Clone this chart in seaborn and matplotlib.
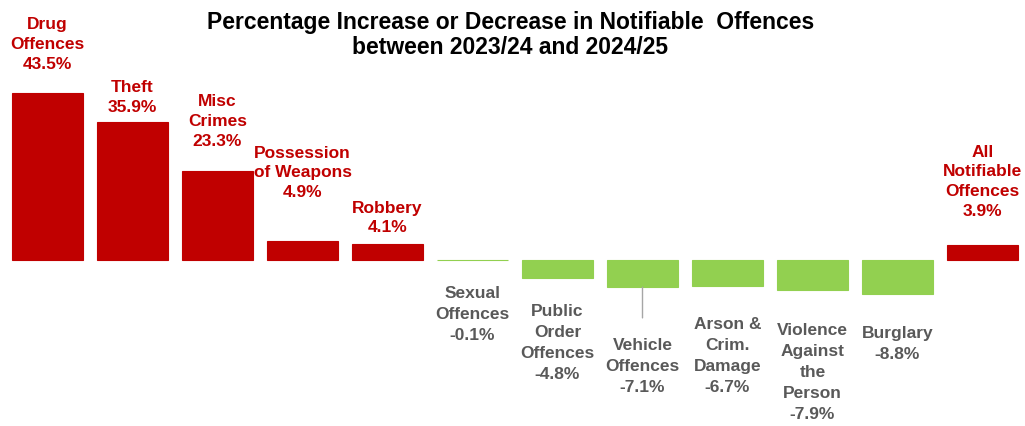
import pandas as pd
import numpy as np
import matplotlib.pyplot as plt
import seaborn as sns

# data
offences = ['Drug\nOffences', 'Theft', 'Misc\nCrimes', 'Possession\nof Weapons', 'Robbery',
            'Sexual\nOffences', 'Public\nOrder\nOffences', 'Vehicle\nOffences', 'Arson &\nCrim.\nDamage',
            'Violence\nAgainst\nthe\nPerson', 'Burglary', 'All\nNotifiable\nOffences']
pct_change = [43.5, 35.9, 23.3, 4.9, 4.1, -0.1, -4.8, -7.1, -6.7, -7.9, -8.8, 3.9]

# label gap from bar end, in pixels (hand placed in the original)
label_gap = [21, 7, 22, 41, 9, 26, 26, 51, 31, 33, 32, 26]

RED = '#C00000'
GREEN = '#92D050'
GREY = '#595959'

sns.set_theme(style='white')
plt.rcParams['font.family'] = ['Liberation Sans', 'DejaVu Sans']

df = pd.DataFrame({'offence': offences, 'pct': pct_change})
bar_colours = [RED if v > 0 else GREEN for v in df['pct']]

fig = plt.figure(figsize=(10.25, 4.26), dpi=100)
ax1 = fig.add_axes([5 / 1025, 0, 1020 / 1025, 1])
sns.barplot(data=df, x='offence', y='pct', hue='offence', palette=bar_colours,
            width=0.83, legend=False, ax=ax1, saturation=1, linewidth=0.8)
for bar, c in zip(ax1.patches, bar_colours):
    bar.set_edgecolor(c)
ax1.set_xlim(-0.5, len(offences) - 0.5)
ax1.set_ylim(-43.2, 67.7)
ax1.axis('off')

for i, (name, v) in enumerate(zip(df['offence'], df['pct'])):
    txt = f"{name}\n{v:.1f}%"
    gap = label_gap[i] * 0.72
    if v > 0:
        ax1.annotate(txt, (i, v), xytext=(0, gap), textcoords='offset points', ha='center',
                     va='bottom', color=RED, fontsize=12.5, fontweight='bold', linespacing=1.4)
    else:
        ax1.annotate(txt, (i, v), xytext=(0, -gap), textcoords='offset points', ha='center',
                     va='top', color=GREY, fontsize=12.5, fontweight='bold', linespacing=1.5)

# leader line for the vehicle offences label
veh = offences.index('Vehicle\nOffences')
ax1.annotate('', (veh, pct_change[veh]), xytext=(0, -22), textcoords='offset points',
             arrowprops=dict(arrowstyle='-', color='#A6A6A6', lw=1, shrinkA=0, shrinkB=0))

fig.text(0.498, 0.975, 'Percentage Increase or Decrease in Notifiable  Offences\nbetween 2023/24 and 2024/25',
         ha='center', va='top', fontsize=16.5, fontweight='bold', color='black', linespacing=1.15)

fig.savefig('out.png', dpi=100)
